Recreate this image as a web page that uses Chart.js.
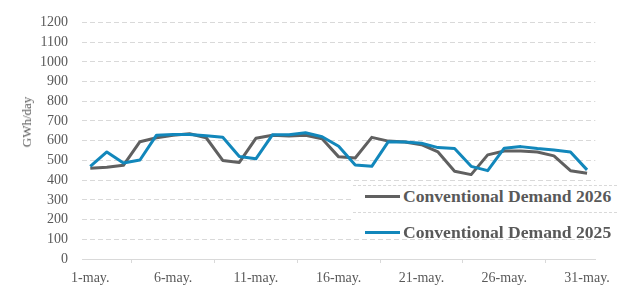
<!DOCTYPE html>
<html>
<head>
<meta charset="utf-8">
<title>Conventional Demand - May</title>
<script src="https://cdn.jsdelivr.net/npm/chart.js@4.4.1/dist/chart.umd.min.js"></script>
<style>
  html, body { margin: 0; padding: 0; background: #fff; }
  #wrap { position: relative; width: 617px; height: 286px; overflow: hidden; }
  #chart { display: block; }
  #y-title {
    position: absolute; left: 27px; top: 122px;
    transform: translate(-50%, -50%) rotate(-90deg);
    font: 13px "Liberation Serif", serif; color: #595959; white-space: nowrap;
  }
  #legend {
    position: absolute; left: 353px; top: 185px; width: 264px; height: 52px;
    background: #fff;
  }
  .legend-row {
    position: relative; height: 27px;
    border-top: 1px dashed #d9d9d9; box-sizing: border-box;
  }
  .legend-swatch { position: absolute; left: 12px; width: 35px; height: 3px; }
  .legend-text {
    position: absolute; left: 50px; white-space: nowrap;
    font: bold 17.6px "Liberation Serif", serif; color: #595959;
  }
</style>
</head>
<body>
<div id="wrap">
  <canvas id="chart" width="617" height="286"></canvas>
  <div id="y-title">GWh/day</div>
  <div id="legend"></div>
</div>
<script>
  'use strict';

  // days of May
  var days = [];
  for (var d = 1; d <= 31; d++) days.push(d + '-may.');

  var seriesNames = ['Conventional Demand 2026', 'Conventional Demand 2025'];
  var seriesColors = ['#606060', '#1287bb'];

  // GWh/day
  var demand2026 = [460, 465, 475, 595, 615, 628, 635, 615, 500, 490, 612, 628, 624, 628, 610, 518,
    512, 617, 598, 593, 580, 543, 445, 428, 528, 548, 548, 543, 523, 448, 435];
  var demand2025 = [470, 543, 487, 502, 628, 632, 632, 625, 618, 520, 508, 630, 630, 640, 620, 572,
    477, 470, 595, 593, 587, 565, 560, 470, 448, 562, 570, 560, 553, 543, 452];

  var yMin = 0, yMax = 1200, yStep = 100;

  var tickFont = { family: '"Liberation Serif", serif', size: 14 };
  var tickColor = '#595959';
  var gridColor = '#d9d9d9';

  new Chart(document.getElementById('chart').getContext('2d'), {
    type: 'line',
    data: {
      labels: days,
      datasets: [
        { label: seriesNames[0], data: demand2026, borderColor: seriesColors[0], order: 1 },
        { label: seriesNames[1], data: demand2025, borderColor: seriesColors[1], order: 0 }
      ]
    },
    options: {
      responsive: false,
      animation: false,
      elements: {
        line: { borderWidth: 3, tension: 0, fill: false, borderJoinStyle: 'round' },
        point: { radius: 0 }
      },
      layout: { padding: { top: 16.5, right: 17, left: 0, bottom: 0 } },
      scales: {
        x: {
          offset: true,
          grid: { offset: true, drawOnChartArea: false, drawTicks: true, tickLength: 4, color: gridColor },
          border: { display: true, color: gridColor, width: 1 },
          ticks: {
            autoSkip: false, maxRotation: 0, color: tickColor, font: tickFont, padding: 7,
            callback: function (val, i) { return i % 5 === 0 ? days[i] : null; }
          },
          afterFit: function (scale) { scale.height = 27; }
        },
        y: {
          min: yMin, max: yMax,
          grid: { color: gridColor, drawTicks: false, borderDash: [5, 3] },
          border: { display: false, dash: [5, 3] },
          ticks: {
            stepSize: yStep, autoSkip: false, color: tickColor, font: tickFont, padding: 14,
            callback: function (val) { return String(val); }
          },
          afterFit: function (scale) { scale.width = 82; }
        }
      },
      plugins: { legend: { display: false }, tooltip: { enabled: false } }
    }
  });

  // legend box laid over the lower right of the plot
  var legend = document.getElementById('legend');
  legend.innerHTML = seriesNames.map(function (name, i) {
    return '<div class="legend-row">' +
      '<div class="legend-swatch" style="top:' + (i === 0 ? 9 : 18) + 'px;background:' + seriesColors[i] + '"></div>' +
      '<div class="legend-text" style="top:' + (i === 0 ? 0 : 9) + 'px">' + name + '</div>' +
      '</div>';
  }).join('');
</script>
</body>
</html>
